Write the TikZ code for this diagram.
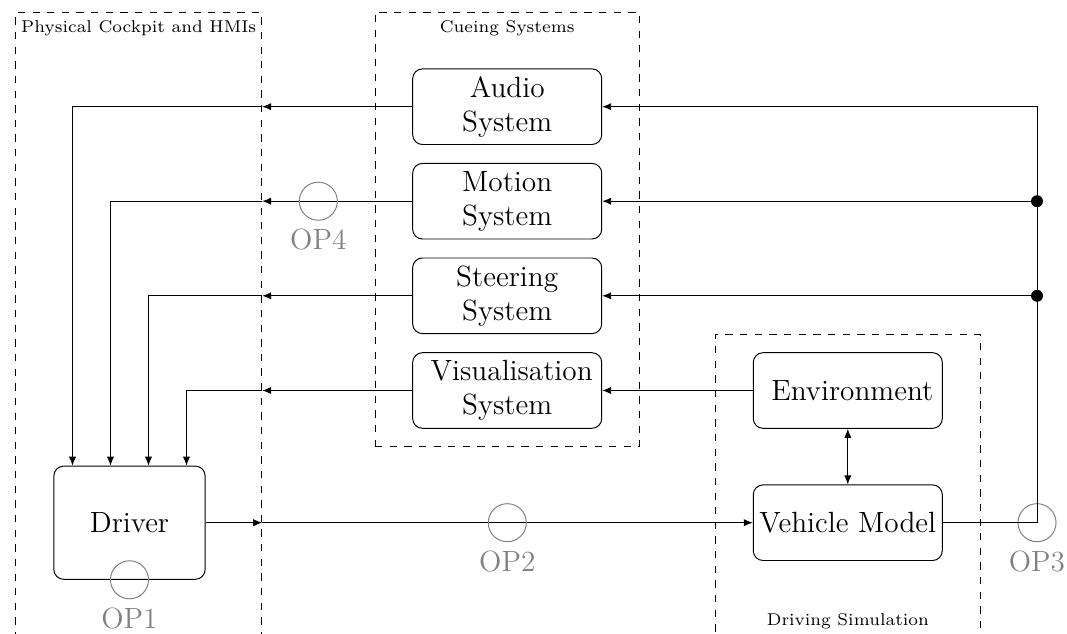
\documentclass[tikz,border=0pt]{standalone}
\usetikzlibrary{arrows.meta,calc,fit}
\begin{document}
\begin{tikzpicture}[x=0.41pt,y=-0.41pt,
  arr/.style={-{Latex[length=3.7pt,width=3pt]}},
  darr/.style={{Latex[length=3.7pt,width=3pt]}-{Latex[length=3.7pt,width=3pt]}},
  block/.style={draw, rounded corners=4pt, align=center, font=\large,
    inner sep=1pt, minimum width=77.5pt, minimum height=31pt},
  driverbox/.style={block, minimum width=62pt, minimum height=46.4pt},
  zone/.style={draw, dashed, inner sep=0pt},
  zonelabel/.style={font=\scriptsize},
  op/.style={circle, draw=gray, inner sep=0pt, minimum size=15.6pt,
    label={[text=gray, font=\large]below:#1}},
  junction/.style={circle, fill, inner sep=0pt, minimum size=4.9pt}]
\useasboundingbox (0,0) rectangle (1067,634);

% dashed zones
\coordinate (ck1) at (15.7,12.3);   \coordinate (ck2) at (261.7,642);
\coordinate (cu1) at (375,12.3);    \coordinate (cu2) at (639.3,446.7);
\coordinate (sm1) at (715.7,334);   \coordinate (sm2) at (980,642);
\node[zone, fit=(ck1)(ck2)] (cockpit) {};
\node[zone, fit=(cu1)(cu2)] (cueing) {};
\node[zone, fit=(sm1)(sm2)] (sim) {};
\node[zonelabel, anchor=north] (ckl) at (cockpit.north) {Physical Cockpit and HMIs};
\node[zonelabel, anchor=north] (cul) at (cueing.north) {Cueing Systems};
\node[zonelabel, anchor=base] (sml) at ($(sim.south)+(0,-17)$) {Driving Simulation};

% blocks
\node[block] (audio)    at (507.2,106.7) {Audio\\System};
\node[block] (motion)   at (507.2,201.2) {Motion\\System};
\node[block] (steering) at (507.2,295.8) {Steering\\System};
\node[block] (visual)   at (507.2,390.5) {\hspace*{3.7pt}Visualisation\\System};
\node[block] (env)      at (847.8,390.5) {\hspace*{3.7pt}Environment};
\node[block] (vehicle)  at (847.8,522.7) {Vehicle Model};
\node[driverbox] (driver) at (129.5,522.7) {Driver};

% cue signals into the cockpit
\coordinate (ca) at (cockpit.east |- audio.west);
\coordinate (cm) at (cockpit.east |- motion.west);
\coordinate (cs) at (cockpit.east |- steering.west);
\coordinate (cv) at (cockpit.east |- visual.west);
\draw[arr] (audio.west) -- (ca);
\draw[arr] (ca) -| ($(driver.north)+(-57,0)$);
\draw[arr] (motion.west) -- (cm);
\draw[arr] (cm) -| ($(driver.north)+(-19,0)$);
\draw[arr] (steering.west) -- (cs);
\draw[arr] (cs) -| ($(driver.north)+(19,0)$);
\draw[arr] (visual.west) -- (cv);
\draw[arr] (cv) -| ($(driver.north)+(57,0)$);

% driver inputs to the vehicle model
\coordinate (cd) at (cockpit.east |- driver.east);
\draw[arr] (driver.east) -- (cd);
\draw[arr] (cd) -- (vehicle.west);

% observation points
\node[op=OP1] (op1) at (driver.south) {};
\node[op=OP2] (op2) at (507.3,522.7) {};
\node[op=OP3] (op3) at (1037,522.7) {};
\node[op=OP4] (op4) at (318.3,201.2) {};

% vehicle state back to the cueing systems
\node[junction] (jm) at (op3 |- motion) {};
\node[junction] (js) at (op3 |- steering) {};
\draw[arr] (vehicle.east) -- (op3.center) |- (audio.east);
\draw[arr] (jm) -- (motion.east);
\draw[arr] (js) -- (steering.east);

% environment
\draw[arr] (env.west) -- (visual.east |- env.west);
\draw[darr] (env) -- (vehicle);
\end{tikzpicture}
\end{document}
